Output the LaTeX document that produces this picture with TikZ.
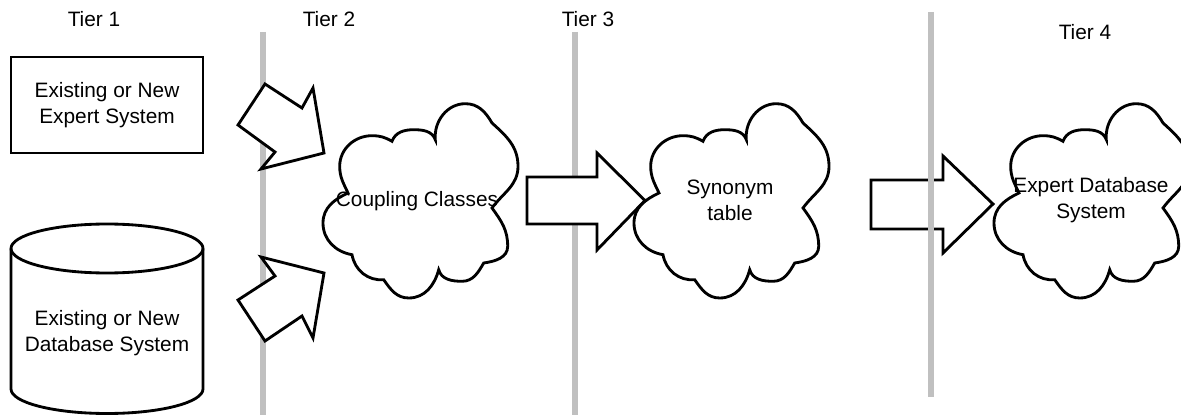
\documentclass[tikz,border=0pt]{standalone}
\usepackage{fontspec}
\setmainfont{Liberation Sans}
\begin{document}
\begin{tikzpicture}[x=0.6pt,y=0.6pt,
  outline/.style={draw=black,line width=1.7pt,line join=miter,fill=white},
  tierbar/.style={draw={rgb,255:red,192;green,192;blue,192},line width=3.8pt},
  lbl/.style={font=\fontsize{12.5}{15.5}\selectfont,align=center,inner sep=0pt},
  pics/puffcloud/.style={code={
    \path[outline] (25,-90)
      to[out=115,in=270] (16.7,-63.3)
      to[out=90,in=180] (49,-32.7)
      to[out=0,in=150] (69,-38.3)
      to[out=70,in=180] (90.7,-26.7)
      to[out=0,in=110] (112.3,-36.7)
      to[out=95,in=180] (142.3,-0.7)
      to[out=0,in=120] (169,-20)
      to[out=-42,in=90] (195,-63.3)
      to[out=-90,in=54] (169,-105)
      to[out=-54,in=90] (184.7,-143.3)
      to[out=-90,in=8] (160.7,-160)
      to[out=-120,in=0] (139,-178.3)
      to[out=180,in=-75] (115.7,-166.7)
      to[out=-105,in=0] (85.7,-195)
      to[out=180,in=-55] (60.7,-176.7)
      to[out=185,in=-80] (29,-151.7)
      to[out=170,in=-90] (0,-120)
      to[out=90,in=-155] (25,-90)
      -- cycle;
  }}
]
\useasboundingbox (0,0) rectangle (1181,-415);

% tier headings
\node[lbl] (tier1) at (94,-19) {Tier 1};
\node[lbl] (tier2) at (329,-19) {Tier 2};
\node[lbl] (tier3) at (588,-19) {Tier 3};
\node[lbl] (tier4) at (1085,-32) {Tier 4};

% first two tier separators lie behind the arrows
\draw[tierbar] (263,-32) -- (263,-415);
\draw[tierbar] (575,-32) -- (575,-415);

% tier 1: expert system box and database cylinder
\draw[outline] (11,-57) rectangle (203,-153);
\node[lbl] (expsys) at (107,-105) {Existing or New\\Expert System};

\path[outline] (11,-248.5) -- (11,-389)
  arc[start angle=180,end angle=360,x radius=96,y radius=24.5]
  -- (203,-248.5)
  arc[start angle=0,end angle=180,x radius=96,y radius=24.5] -- cycle;
\draw[outline,fill=none] (11,-248.5)
  arc[start angle=180,end angle=360,x radius=96,y radius=24.5];
\node[lbl] (dbsys) at (107,-333) {Existing or New\\Database System};

% block arrows
\path[outline] (265,-84) -- (302,-108) -- (313,-88) -- (324,-153)
  -- (261,-169) -- (275,-152) -- (238,-125) -- cycle;
\path[outline] (261,-257) -- (324,-273) -- (313,-338) -- (302,-316)
  -- (265,-341) -- (238,-300) -- (275,-276) -- cycle;
\path[outline] (527,-177) -- (597,-177) -- (597,-153) -- (645,-200.5)
  -- (597,-250) -- (597,-224) -- (527,-224) -- cycle;
\path[outline] (871,-180) -- (943,-180) -- (943,-156) -- (993,-204)
  -- (943,-253) -- (943,-229) -- (871,-229) -- cycle;

% last separator runs over its arrow
\draw[tierbar] (931,-12) -- (931,-397);

% clouds
\pic (coupling) at (323,-103) {puffcloud};
\pic (synonym) at (634,-103) {puffcloud};
\pic (expertdb) at (994,-103) {puffcloud};
\node[lbl] (couplingtext) at (417,-201) {Coupling Classes};
\node[lbl] (synonymtext) at (730,-200) {Synonym\\table};
\node[lbl] (expertdbtext) at (1091,-200) {Expert Database\\System};
\end{tikzpicture}
\end{document}
